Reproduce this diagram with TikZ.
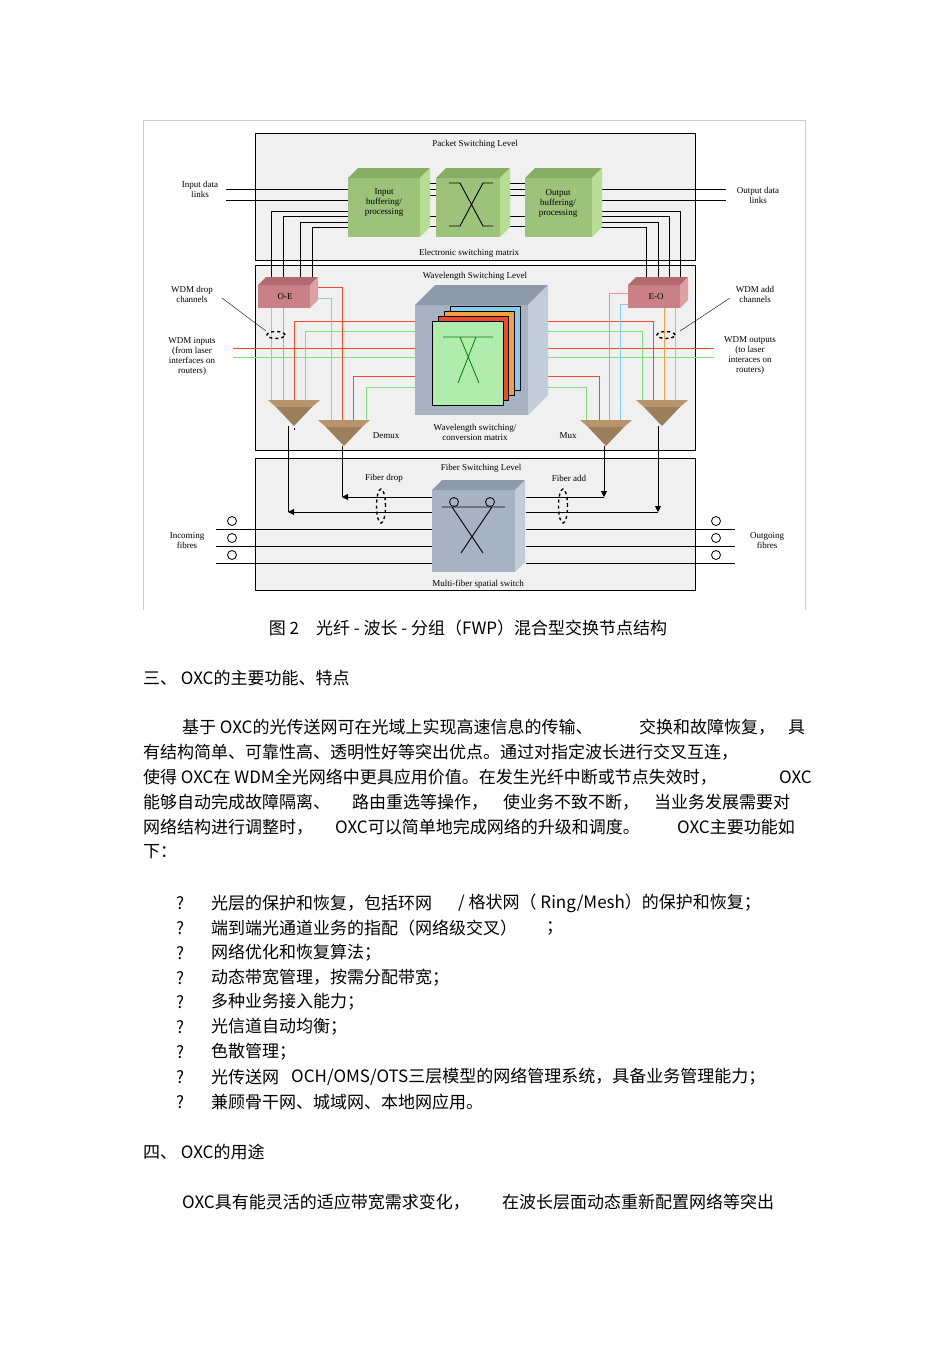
\documentclass[tikz,border=0pt]{standalone}
\usepackage{fontspec}
\setmainfont{Liberation Serif}
\newfontfamily\cjk{Noto Sans CJK SC}
\usetikzlibrary{arrows.meta}
\definecolor{gF}{HTML}{9DC37A}\definecolor{gT}{HTML}{88AE66}\definecolor{gS}{HTML}{B7DE92}
\definecolor{pF}{HTML}{C98086}\definecolor{pT}{HTML}{B06A70}\definecolor{pS}{HTML}{DDA0A4}
\definecolor{bF}{HTML}{A7B2C2}\definecolor{bT}{HTML}{8E99AA}\definecolor{bS}{HTML}{C3CDDA}
\definecolor{tan}{HTML}{B8946A}\definecolor{lr}{HTML}{F04A2A}\definecolor{lg}{HTML}{7EE07A}
\definecolor{lb}{HTML}{7FCFEF}\definecolor{lo}{HTML}{F2A040}\definecolor{panel}{HTML}{F0F0F0}
\newcommand\mycube[8]{% x1 y1 x2 y2 d front top side
 \fill[#6] (#1,#2) rectangle (#3,#4);
 \fill[#7] (#1,#2)--(#1+#5,#2-#5)--(#3+#5,#2-#5)--(#3,#2)--cycle;
 \fill[#8] (#3,#2)--(#3+#5,#2-#5)--(#3+#5,#4-#5)--(#3,#4)--cycle;}
\tikzset{lab/.style={font=\fontsize{9}{10}\selectfont,align=center,inner sep=0pt},
 body/.style={font=\cjk\fontsize{17}{20}\selectfont,anchor=west,inner sep=0pt},
 blk/.style={black,line width=0.9pt},
 arr/.style={-{Triangle[length=6pt,width=6pt]},line width=0.9pt}}
\begin{document}
\begin{tikzpicture}[x=1pt,y=-1pt]
\useasboundingbox (0,0) rectangle (950,1345);
\fill[white] (0,0) rectangle (950,1345);
\draw[gray!40] (143,610)--(143,120)--(805,120)--(805,610);
% panels
\foreach \a/\b in {133/260,265/450,458/590}{\draw[panel!100,fill=panel] (255,\a) rectangle (695,\b); \draw[black,line width=0.8pt] (255,\a) rectangle (695,\b);}
\node[lab] (pl) at (475,144) {Packet Switching Level};
\node[lab] (esm) at (469,253) {Electronic switching matrix};
\node[lab] (wl) at (475,276) {Wavelength Switching Level};
\node[lab] (fl) at (481,468) {Fiber Switching Level};
\node[lab] (ms) at (478,584) {Multi-fiber spatial switch};
% packet level lines
\draw[blk] (226,189)--(350,189) (226,200)--(350,200);
\draw[blk] (598,189)--(726,189) (598,200)--(726,200);
\draw[blk] (271,279)--(271,211)--(350,211) (283,279)--(283,216)--(350,216) (300,279)--(300,222)--(350,222) (312,279)--(312,227)--(350,227);
\draw[blk] (646,279)--(646,227)--(600,227) (658,279)--(658,222)--(600,222) (669,279)--(669,216)--(600,216) (680,279)--(680,211)--(600,211);
\foreach \y in {183,189,195,216,226}{\draw[blk] (420,\y)--(436,\y); \draw[blk] (510,\y)--(525,\y);}
\mycube{348}{178}{420}{237}{10}{gF}{gT}{gS}
\mycube{436}{178}{500}{237}{10}{gF}{gT}{gS}
\mycube{525}{178}{592}{237}{10}{gF}{gT}{gS}
\node[lab] (ib) at (384,203) {Input\\buffering/\\processing};
\node[lab] (ob) at (558,203) {Output\\buffering/\\processing};
\draw[blk] (449,183)--(460,183)--(483,226)--(493,226) (449,226)--(460,226)--(483,183)--(493,183);
\node[lab] (idl) at (200,189) {Input data\\links};
\node[lab] (odl) at (758,195) {Output data\\links};
% wavelength level coloured lines
\draw[lr,line width=1pt] (233,348)--(714,348);
\draw[lg,line width=1pt] (233,357)--(714,357);
\draw[lr,line width=1pt] (294,402)--(294,321)--(653,321)--(653,402);
\draw[lg,line width=1pt] (305,402)--(305,331)--(642,331)--(642,402);
\draw[lr,line width=1pt] (353,422)--(353,376)--(599,376)--(599,422);
\draw[lg,line width=1pt] (366,422)--(366,387)--(586,387)--(586,422);
\draw[lr,line width=1pt] (318,287)--(342,287)--(342,422);
\draw[lb,line width=1pt] (318,298)--(331,298)--(331,422);
\draw[lb,line width=1pt] (271,305)--(271,402);
\draw[lo,line width=1pt] (283,305)--(283,402);
\draw[lr!60,line width=1pt] (631,293)--(609,293)--(609,422);
\draw[lb,line width=1pt] (631,304)--(620,304)--(620,422);
\draw[lo,line width=1pt] (664,305)--(664,402);
\draw[lb,line width=1pt] (675,305)--(675,402);
\mycube{258}{285}{310}{308}{8}{pF}{pT}{pS}
\mycube{628}{285}{680}{308}{8}{pF}{pT}{pS}
\node[lab] (oe) at (285,297) {O-E};
\node[lab] (eo) at (656,297) {E-O};
\mycube{415}{305}{528}{415}{20}{bF}{bT}{bS}
\fill[lb] (450,306) rectangle (520,390); \draw (450,306) rectangle (520,390);
\fill[lo] (444,311) rectangle (514,395); \draw (444,311) rectangle (514,395);
\fill[lr] (438,316) rectangle (508,400); \draw (438,316) rectangle (508,400);
\fill[lg!60] (432,321) rectangle (503,405); \draw (432,321) rectangle (503,405);
\draw[green!50!black,line width=0.8pt] (443,337)--(493,337) (460,337)--(479,383) (476,337)--(458,383);
\node[lab] (wsc) at (475,432) {Wavelength switching/\\conversion matrix};
\foreach \xa/\ya in {268/400,318/420,580/420,636/400}{
 \fill[tan] (\xa,\ya)--(\xa+52,\ya)--(\xa+44,\ya+7)--(\xa+8,\ya+7)--cycle;
 \fill[tan!85!black] (\xa+8,\ya+7)--(\xa+44,\ya+7)--(\xa+26,\ya+26)--cycle;}
\node[lab] (dm) at (386,436) {Demux};
\node[lab] (mx) at (568,436) {Mux};
\node[lab] (wdc) at (192,294) {WDM drop\\channels};
\node[lab] (wac) at (755,294) {WDM add\\channels};
\node[lab] (wi) at (192,356) {WDM inputs\\(from laser\\interfaces on\\routers)};
\node[lab] (wo) at (750,356) {WDM outputs\\(to laser\\interaces on\\routers)};
\draw[thin] (222,298)--(266,331); \draw[thin] (730,298)--(680,331);
\draw[line width=1.4pt,dashed] (276,335) ellipse (9pt and 3.5pt);
\draw[line width=1.4pt,dashed] (666,335) ellipse (9pt and 3.5pt);
% fiber level
\draw[blk] (294,428)--(294,430); 
\draw[blk] (288,426)--(288,512); \draw[arr] (432,512)--(288,512);
\draw[blk] (342,446)--(342,497); \draw[arr] (432,497)--(342,497);
\draw[blk] (526,497)--(604,497); \draw[arr] (604,446)--(604,497);
\draw[blk] (526,512)--(658,512); \draw[arr] (658,426)--(658,512);
\foreach \y in {529,546,563}{\draw[blk] (216,\y)--(432,\y); \draw[blk] (526,\y)--(735,\y);
 \draw[thick] (232,\y-8) circle (4.5pt); \draw[thick] (716,\y-8) circle (4.5pt);}
\mycube{432}{490}{515}{572}{10}{bF}{bT}{bS}
\draw[blk] (442,507)--(505,507) (452,507)--(483,553) (492,507)--(461,553);
\draw[thick] (454,502) circle (4.5pt); \draw[thick] (490,502) circle (4.5pt);
\draw[line width=1.4pt,dashed] (381,506) ellipse (4.5pt and 17pt);
\draw[line width=1.4pt,dashed] (563,506) ellipse (4.5pt and 17pt);
\node[lab] (fd) at (384,478) {Fiber drop};
\node[lab] (fa) at (569,478) {Fiber add};
\node[lab] (inf) at (187,541) {Incoming\\fibres};
\node[lab] (ouf) at (767,541) {Outgoing\\fibres};
% caption and body text
\node[body,anchor=center] (cap) at (468,628) {图 2　光纤 - 波长 - 分组（FWP）混合型交换节点结构};
\node[body] (h3) at (143,678) {三、 OXC的主要功能、特点};
\node[body] (p1a) at (182,727) {基于 OXC的光传送网可在光域上实现高速信息的传输、};
\node[body] (p1b) at (639,727) {交换和故障恢复，};
\node[body] (p1c) at (788,727) {具};
\node[body] (p2) at (143,752) {有结构简单、可靠性高、透明性好等突出优点。通过对指定波长进行交叉互连，};
\node[body] (p3a) at (143,777) {使得 OXC在 WDM全光网络中更具应用价值。在发生光纤中断或节点失效时，};
\node[body] (p3b) at (779,777) {OXC};
\node[body] (p4a) at (143,802) {能够自动完成故障隔离、};
\node[body] (p4b) at (352,802) {路由重选等操作，};
\node[body] (p4c) at (503,802) {使业务不致不断，};
\node[body] (p4d) at (654,802) {当业务发展需要对};
\node[body] (p5a) at (143,827) {网络结构进行调整时，};
\node[body] (p5b) at (335,827) {OXC可以简单地完成网络的升级和调度。};
\node[body] (p5c) at (677,827) {OXC主要功能如};
\node[body] (p6) at (143,852) {下：};
\foreach \y/\t [count=\i] in {903/{光层的保护和恢复，包括环网},928/{端到端光通道业务的指配（网络级交叉）},953/{网络优化和恢复算法；},978/{动态带宽管理，按需分配带宽；},1002/{多种业务接入能力；},1027/{光信道自动均衡；},1052/{色散管理；},1077/{光传送网},1102/{兼顾骨干网、城域网、本地网应用。}}{
 \node[body] (q\i) at (176,\y) {?}; \node[body] (b\i) at (211,\y) {\t};}
\node[body] (b1x) at (458,903) {/ 格状网（ Ring/Mesh）的保护和恢复；};
\node[body] (b2x) at (546,928) {；};
\node[body] (b8x) at (291,1077) {OCH/OMS/OTS三层模型的网络管理系统，具备业务管理能力；};
\node[body] (h4) at (143,1152) {四、 OXC的用途};
\node[body] (r1) at (182,1202) {OXC具有能灵活的适应带宽需求变化，};
\node[body] (r2) at (502,1202) {在波长层面动态重新配置网络等突出};
\end{tikzpicture}
\end{document}
